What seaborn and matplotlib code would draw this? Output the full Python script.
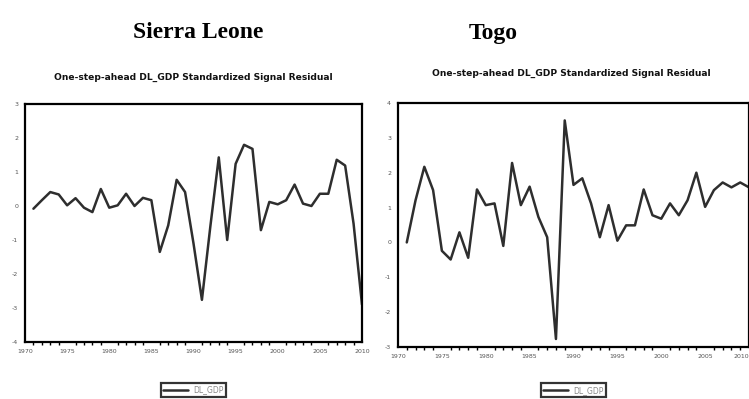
import numpy as np
import pandas as pd
import matplotlib
matplotlib.use("Agg")
import matplotlib.pyplot as plt
from matplotlib.ticker import MultipleLocator
import seaborn as sns

sns.set_style("white")
plt.rcParams["font.family"] = ["DejaVu Sans"]

years = list(range(1971, 2011))

sierra_leone = [-0.08, 0.17, 0.41, 0.34, 0.02, 0.23, -0.05, -0.18, 0.50, -0.05,
                0.02, 0.36, 0.00, 0.24, 0.17, -1.35, -0.57, 0.77, 0.41, -1.10,
                -2.76, -0.60, 1.43, -1.00, 1.24, 1.80, 1.68, -0.71, 0.12, 0.05,
                0.17, 0.63, 0.07, 0.00, 0.36, 0.36, 1.36, 1.19, -0.52, -2.90]

togo = [0.00, 1.21, 2.17, 1.50, -0.24, -0.49, 0.29, -0.44, 1.52, 1.07,
        1.12, -0.10, 2.28, 1.07, 1.60, 0.73, 0.15, -2.77, 3.50, 1.65,
        1.84, 1.12, 0.15, 1.07, 0.05, 0.49, 0.49, 1.52, 0.78, 0.68,
        1.12, 0.78, 1.21, 2.00, 1.02, 1.50, 1.72, 1.58, 1.72, 1.58]

countries = ["Sierra Leone", "Togo"]
subtitle = "One-step-ahead DL_GDP Standardized Signal Residual"
series_name = "DL_GDP"
x_ticks = list(range(1970, 2011, 5))
y_limits = [(-4, 3), (-3, 4)]

fig = plt.figure(figsize=(7.49, 3.99), dpi=100)
ax_left = fig.add_axes([25 / 749, 57 / 399, 337 / 749, 238 / 399])
ax_right = fig.add_axes([398 / 749, 52 / 399, 351 / 749, 244 / 399])

panels = [(ax_left, sierra_leone), (ax_right, togo)]
title_pos = [(198, 33), (493, 33)]
sub_pos = [(193, 77), (571, 73)]
legend_drop = [-0.172, -0.148]

for i, (ax, vals) in enumerate(panels):
    df = pd.DataFrame({"year": years, series_name: vals})
    sns.lineplot(data=df, x="year", y=series_name, ax=ax, color="#2e2e2e",
                 linewidth=1.8, label=series_name)
    ax.set_xlim(1970, 2010)
    lo, hi = y_limits[i]
    ax.set_ylim(lo, hi)
    ax.set_xticks(x_ticks)
    ax.set_xticklabels([str(t) for t in x_ticks], fontsize=4.5, color="#555555")
    ax.xaxis.set_minor_locator(MultipleLocator(1))
    ax.set_yticks(list(range(lo, hi + 1)))
    ax.set_yticklabels([str(t) for t in range(lo, hi + 1)], fontsize=4.5,
                       color="#555555")
    ax.tick_params(axis="both", which="major", direction="out", length=3,
                   width=1.2, color="black", pad=2)
    ax.tick_params(axis="x", which="minor", direction="out", length=2,
                   width=1.0, color="black", bottom=True)
    ax.set_xlabel("")
    ax.set_ylabel("")
    for s in ax.spines.values():
        s.set_visible(True)
        s.set_color("black")
        s.set_linewidth(1.6)
    leg = ax.legend(loc="upper center", bbox_to_anchor=(0.5, legend_drop[i]),
                    borderaxespad=0, frameon=True, fontsize=5.5,
                    handlelength=3.2, borderpad=0.35, fancybox=False,
                    handletextpad=0.7)
    leg.get_frame().set_edgecolor("black")
    leg.get_frame().set_linewidth(1.6)
    for t in leg.get_texts():
        t.set_color("#888888")

    tx, ty = title_pos[i]
    fig.text(tx / 749, 1 - ty / 399, countries[i], ha="center", va="center",
             fontsize=17, fontweight="bold", family="Liberation Serif",
             color="black")
    sx, sy = sub_pos[i]
    fig.text(sx / 749, 1 - sy / 399, subtitle, ha="center", va="center",
             fontsize=6.6, fontweight="bold", color="#111111")

# keep the last year label of the right panel inside the canvas
ax_right.get_xticklabels()[-1].set_horizontalalignment("right")

fig.savefig("out.png", dpi=100)
